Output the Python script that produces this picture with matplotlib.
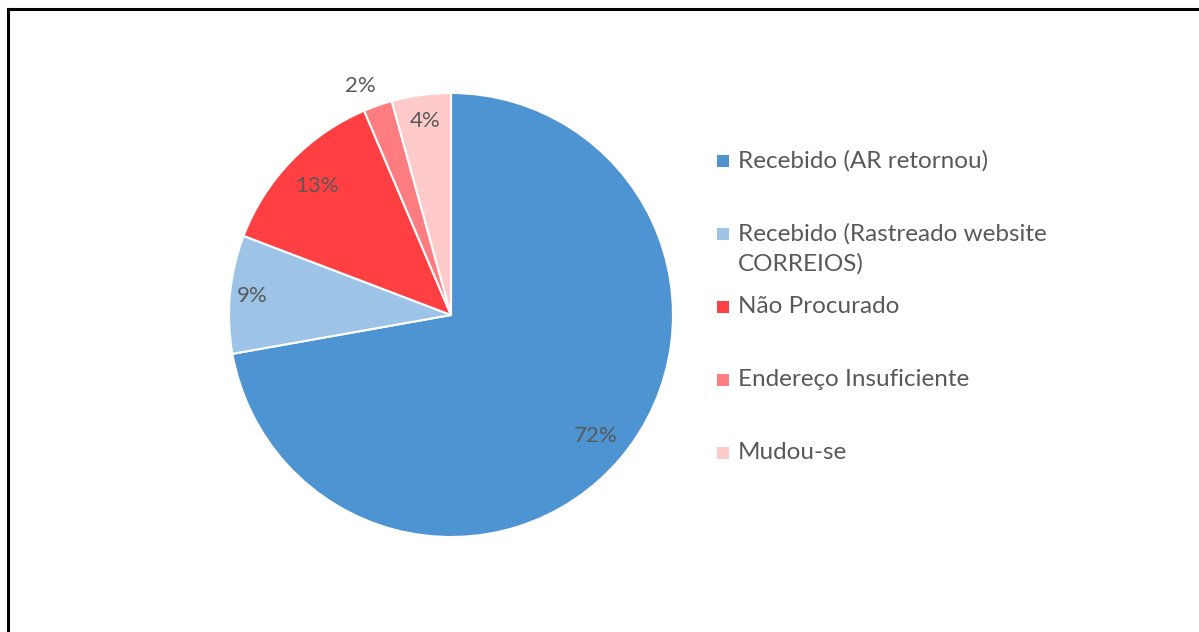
import matplotlib.pyplot as plt
import numpy as np
from matplotlib.lines import Line2D
from matplotlib.patches import Rectangle

plt.rcParams["font.family"] = ["Lato", "DejaVu Sans"]

# dados
categorias = [
    "Recebido (AR retornou)",
    "Recebido (Rastreado website\nCORREIOS)",
    "Não Procurado",
    "Endereço Insuficiente",
    "Mudou-se",
]
valores = [72.2, 8.6, 12.8, 2.1, 4.3]
cores = ["#4E94D2", "#9DC3E6", "#FF3F41", "#FF7C80", "#FFCACA"]
# posição dos rótulos: distância ao centro (fração do raio) e desvio angular (graus)
dist_rotulos = [0.85, 0.9, 0.84, 1.11, 0.88]
desvio_rotulos = [0, 0, 0, 2.4, 0]

TXT = "#595959"

fig = plt.figure(figsize=(11.99, 6.32), dpi=100)

# moldura (só esquerda e topo visíveis)
fig.add_artist(Line2D([8 / 1199, 8 / 1199], [0, 1 - 9 / 632], color="black", lw=2.2,
                      transform=fig.transFigure))
fig.add_artist(Line2D([8 / 1199, 1], [1 - 9 / 632, 1 - 9 / 632], color="black", lw=2.2,
                      transform=fig.transFigure))

ax = fig.add_axes([229 / 1199, 1 - 537 / 632, 444 / 1199, 444 / 632])
wedges, _ = ax.pie(valores, colors=cores, startangle=90, counterclock=False,
                   wedgeprops=dict(edgecolor="white", linewidth=1.5))
ax.set_xlim(-1, 1)
ax.set_ylim(-1, 1)
ax.set_aspect("equal")

total = sum(valores)
for w, v, r, d in zip(wedges, valores, dist_rotulos, desvio_rotulos):
    ang = np.radians((w.theta1 + w.theta2) / 2 + d)
    ax.text(r * np.cos(ang), r * np.sin(ang), f"{100 * v / total:.0f}%",
            ha="center", va="center", fontsize=16, color=TXT)

# legenda manual
y0 = 161
passo = 73
for i, (lab, c) in enumerate(zip(categorias, cores)):
    y = y0 + i * passo
    fig.add_artist(Rectangle((717 / 1199, 1 - (y + 6) / 632), 12 / 1199, 12 / 632,
                             facecolor=c, edgecolor="none", transform=fig.transFigure))
    fig.text(738 / 1199, 1 - (y - 11) / 632, lab, ha="left", va="top",
             fontsize=17.5, color=TXT, linespacing=1.5)

fig.savefig("out.png", dpi=100)
